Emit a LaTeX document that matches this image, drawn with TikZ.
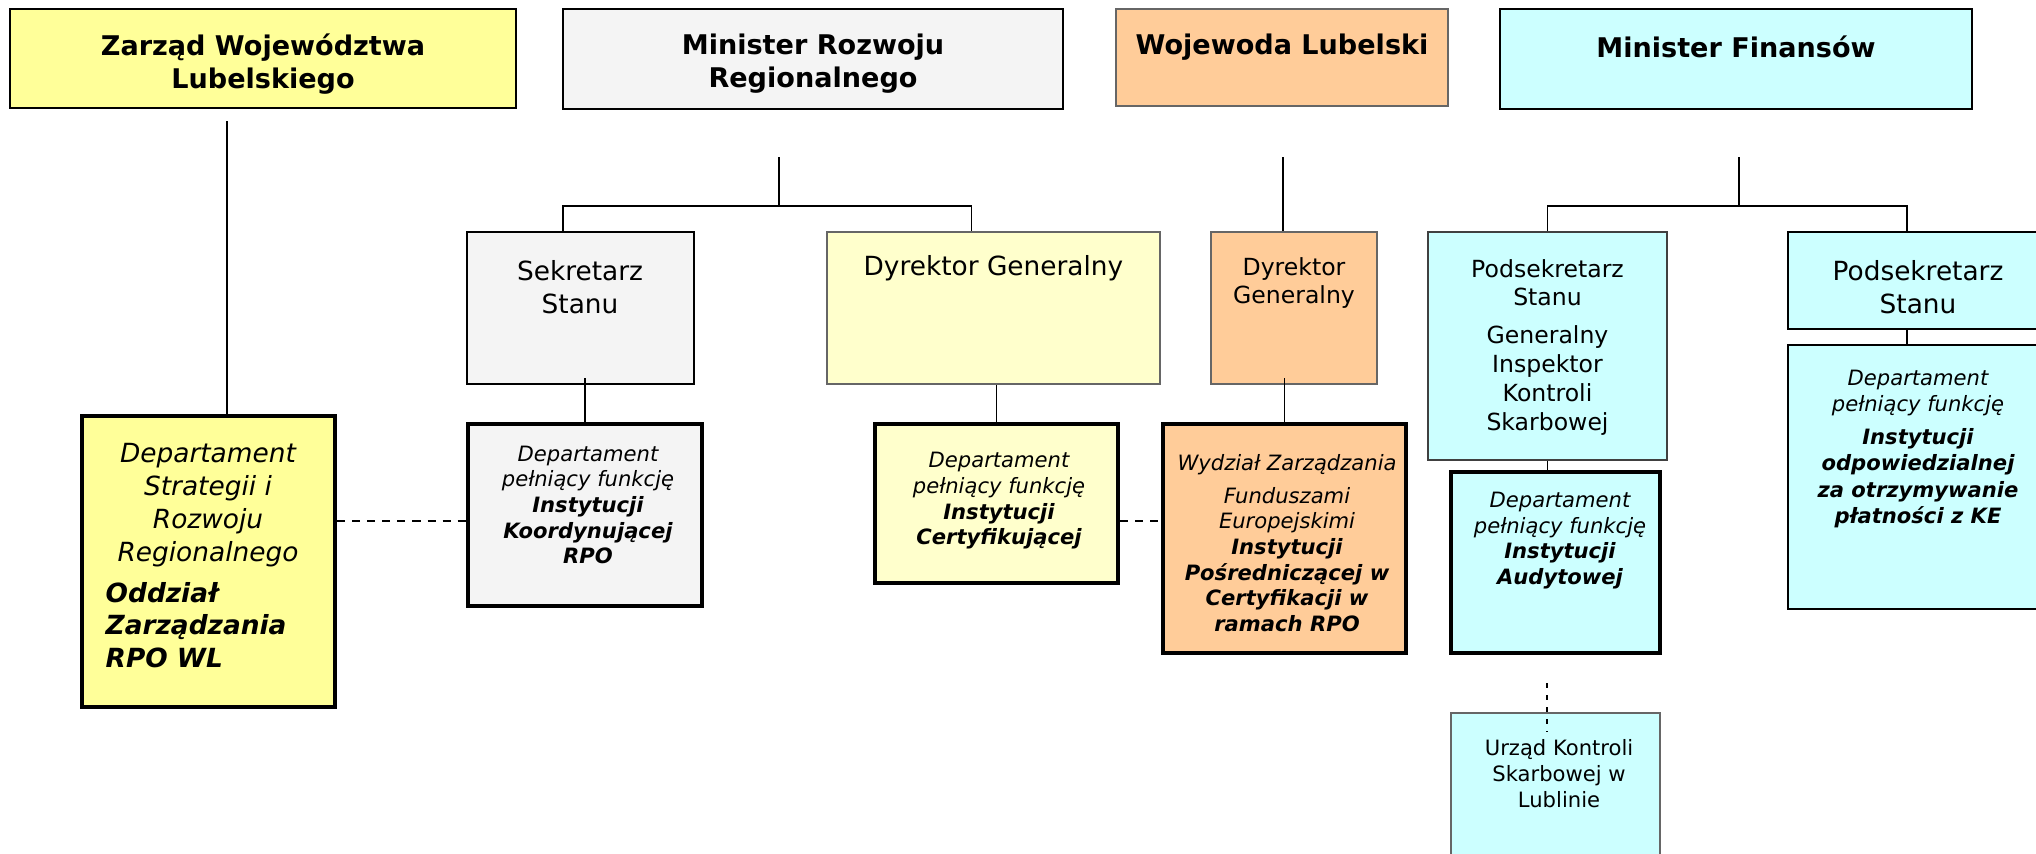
\documentclass[tikz,border=0pt]{standalone}
\usepackage{fontspec}
\setmainfont{DejaVu Sans}
\usepackage{xcolor}
\usetikzlibrary{positioning,calc}

\definecolor{zwlyellow}{HTML}{FFFF99}
\definecolor{mrrgray}{HTML}{F4F4F4}
\definecolor{paleyellow}{HTML}{FFFFCC}
\definecolor{wojorange}{HTML}{FFCC99}
\definecolor{mfcyan}{HTML}{CCFFFF}

\begin{document}
\begin{tikzpicture}[
        x=0.01cm, y=-0.01cm,
        box/.style={rectangle,draw,line width=0.55pt,inner sep=0pt},
        dept/.style={rectangle,draw,line width=1.35pt,inner sep=0pt},
        headtxt/.style={align=center,inner sep=0pt,font=\fontsize{7.7}{9.4}\selectfont\bfseries},
        midtxt/.style={align=center,inner sep=0pt,font=\fontsize{7.5}{9.4}\selectfont},
        smalltxt/.style={align=center,inner sep=0pt,font=\fontsize{6.7}{8.2}\selectfont},
        depttxt/.style={align=center,inner sep=0pt,font=\fontsize{6}{7.3}\selectfont\itshape},
        link/.style={line width=0.5pt},
        dashlink/.style={line width=0.55pt,dash pattern=on 0.08cm off 0.07cm},
        vdashlink/.style={line width=0.4pt,dash pattern=on 0.05cm off 0.07cm}
    ]
        \useasboundingbox (0,0) rectangle (2036,853);

        % top level
        \node[box,fill=zwlyellow,minimum width=5.06cm,minimum height=0.99cm] (zarzad) at (263,58.5) {};
        \node[headtxt] (zarzad-t) at (263,64) {Zarząd Województwa\\Lubelskiego};
        \node[box,fill=mrrgray,minimum width=5.0cm,minimum height=1.0cm] (mrr) at (813,59) {};
        \node[headtxt] (mrr-t) at (813,64) {Minister Rozwoju\\Regionalnego};
        \node[box,draw=black!60,fill=wojorange,minimum width=3.32cm,minimum height=0.97cm] (woj) at (1282,57.5) {};
        \node[headtxt] (woj-t) at (1282,47) {Wojewoda Lubelski};
        \node[box,fill=mfcyan,minimum width=4.72cm,minimum height=1.0cm] (mf) at (1736,59) {};
        \node[headtxt] (mf-t) at (1736,47) {Minister Finansów};

        % second level
        \node[box,fill=mrrgray,minimum width=2.27cm,minimum height=1.52cm] (sek) at (580.5,308) {};
        \node[midtxt] (sek-t) at (580,287.5) {Sekretarz\\Stanu};
        \node[box,draw=black!60,fill=paleyellow,minimum width=3.33cm,minimum height=1.52cm] (dgm) at (993.5,308) {};
        \node[midtxt] (dgm-t) at (993.5,268) {Dyrektor Generalny};
        \node[box,draw=black!60,fill=wojorange,minimum width=1.66cm,minimum height=1.52cm] (dgw) at (1294,308) {};
        \node[smalltxt] (dgw-t) at (1294,283) {Dyrektor\\Generalny};
        \node[box,draw=black!75,fill=mfcyan,minimum width=2.39cm,minimum height=2.28cm] (pss1) at (1547.5,346) {};
        \node[smalltxt] (pss1-t) at (1547.5,347) {Podsekretarz\\Stanu\\[2.5pt]Generalny\\Inspektor\\Kontroli\\Skarbowej};
        \node[box,fill=mfcyan,minimum width=2.6cm,minimum height=0.97cm] (pss2) at (1918,280.5) {};
        \node[midtxt] (pss2-t) at (1918,287.5) {Podsekretarz\\Stanu};

        % departments
        \node[dept,fill=zwlyellow,minimum width=2.53cm,minimum height=2.91cm] (dsr) at (208.5,561.5) {};
        \node[midtxt,font=\fontsize{7.5}{9.4}\selectfont\itshape] (dsr-t) at (208,505) {Departament\\Strategii i\\Rozwoju\\Regionalnego};
        \node[midtxt,align=left,anchor=west,font=\fontsize{7.5}{9.2}\selectfont\bfseries\itshape] (dsr-b) at (105,625) {Oddział\\Zarządzania\\RPO WL};
        \node[dept,fill=mrrgray,minimum width=2.34cm,minimum height=1.82cm] (dko) at (585,515) {};
        \node[depttxt] (dko-t) at (588,505) {Departament\\pełniący funkcję\\\textbf{Instytucji}\\\textbf{Koordynującej}\\\textbf{RPO}};
        \node[dept,fill=paleyellow,minimum width=2.43cm,minimum height=1.59cm] (dce) at (996.5,503.5) {};
        \node[depttxt] (dce-t) at (999,501) {Departament\\pełniący funkcję\\\textbf{Instytucji}\\\textbf{Certyfikującej}};
        \node[dept,fill=wojorange,minimum width=2.43cm,minimum height=2.29cm] (dwz) at (1284.5,538.5) {};
        \node[depttxt] (dwz-t) at (1287,543) {Wydział Zarządzania\\[2pt]Funduszami\\Europejskimi\\\textbf{Instytucji}\\\textbf{Pośredniczącej w}\\\textbf{Certyfikacji w}\\\textbf{ramach RPO}};
        \node[dept,fill=mfcyan,minimum width=2.09cm,minimum height=1.81cm] (dau) at (1555.5,562.5) {};
        \node[depttxt] (dau-t) at (1560,540.5) {Departament\\pełniący funkcję\\\textbf{Instytucji}\\\textbf{Audytowej}};
        \node[box,fill=mfcyan,minimum width=2.6cm,minimum height=2.64cm] (dke) at (1918,477) {};
        \node[depttxt,font=\fontsize{6}{7.5}\selectfont\itshape] (dke-t) at (1918,449) {Departament\\pełniący funkcję\\[1.7pt]\textbf{Instytucji}\\\textbf{odpowiedzialnej}\\\textbf{za otrzymywanie}\\\textbf{płatności z KE}};
        \node[box,draw=black!60,fill=mfcyan,minimum width=2.09cm,minimum height=1.87cm] (uks) at (1555.5,806.5) {};
        \node[depttxt,font=\fontsize{6}{7.3}\selectfont] (uks-t) at (1559,773.5) {Urząd Kontroli\\Skarbowej w\\Lublinie};

        % connectors
        \coordinate (zarzad-in) at (227,121);
        \coordinate (mrr-in) at (779,157);
        \coordinate (mrr-bar) at (779,206);
        \coordinate (woj-in) at (1283,157);
        \coordinate (mf-in) at (1739,157);
        \coordinate (mf-bar) at (1739,206);
        \coordinate (dashrow) at (0,521);
        \coordinate (uks-a) at (1547,683);
        \coordinate (uks-b) at (1547,732);

        \draw[link] (zarzad-in) -- (zarzad-in |- dsr.north);
        \draw[link] (mrr-in) -- (mrr-bar);
        \draw[link] ([xshift=-0.175cm]sek.north) |- (mrr-bar) -| ([xshift=-0.22cm]dgm.north);
        \draw[link] (woj-in) -- (woj-in |- dgw.north);
        \draw[link] (mf-in) -- (mf-bar);
        \draw[link] (pss1.north) |- (mf-bar) -| ([xshift=-0.11cm]pss2.north);

        \draw[link] ([yshift=0.07cm]sek.south -| dko.north) -- (dko.north);
        \draw[link] (dgm.south -| dce.north) -- (dce.north);
        \draw[link] ([yshift=0.07cm]dgw.south -| dwz.north) -- (dwz.north);
        \draw[link] (pss1.south) -- (pss1.south |- dau.north);
        \draw[link] ([xshift=-0.11cm]pss2.south) -- ([xshift=-0.11cm]dke.north);

        \draw[dashlink] (dsr.east |- dashrow) -- (dko.west |- dashrow);
        \draw[dashlink] (dce.east |- dashrow) -- (dwz.west |- dashrow);
        \draw[vdashlink] (uks-a) -- (uks-b);
    \end{tikzpicture}
\end{document}
